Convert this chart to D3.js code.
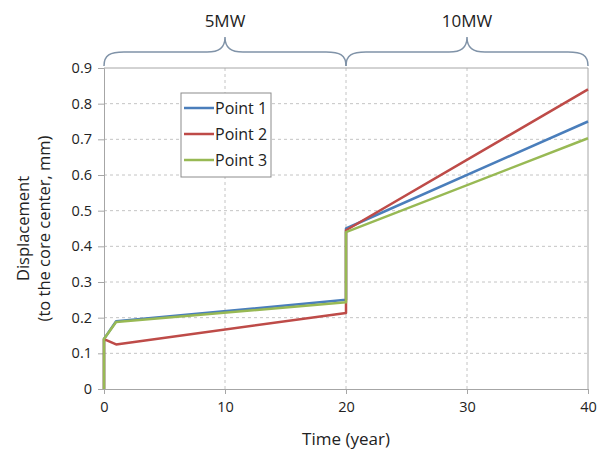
<!DOCTYPE html>
<html>
<head>
<meta charset="utf-8">
<script src="https://cdn.jsdelivr.net/npm/d3@7"></script>
<style>
  body { margin: 0; background: #fff; }
  text { font-family: "Open Sans", "Noto Sans", sans-serif; fill: #222; }
</style>
</head>
<body>
<div id="canvas"></div>
<script>
// data
let years = [0, 0, 1, 20, 20, 40];
let point1 = [0, 0.14, 0.19, 0.25, 0.45, 0.75];
let point2 = [0, 0.14, 0.125, 0.213, 0.445, 0.84];
let point3 = [0, 0.14, 0.188, 0.243, 0.44, 0.703];
let seriesNames = ["Point 1", "Point 2", "Point 3"];
let colors = ["#4a7ebb", "#be4b48", "#98b954"];
let xTicks = [0, 10, 20, 30, 40];
let yTicks = [0, 0.1, 0.2, 0.3, 0.4, 0.5, 0.6, 0.7, 0.8, 0.9];
let phases = [{ label: "5MW", from: 0, to: 20 }, { label: "10MW", from: 20, to: 40 }];

let width = 606, height = 453;
let margin = { left: 104, right: 18, top: 68, bottom: 64 };

let svg = d3
  .select("#canvas")
  .append("svg")
  .attr("width", width)
  .attr("height", height);

let x = d3.scaleLinear().domain([0, 40]).range([margin.left, width - margin.right]);
let y = d3.scaleLinear().domain([0, 0.9]).range([height - margin.bottom, margin.top]);

// grid
svg.append("g")
  .selectAll("line")
  .data(yTicks.slice(1, -1))
  .join("line")
  .attr("x1", x(0)).attr("x2", x(40))
  .attr("y1", (d) => y(d)).attr("y2", (d) => y(d))
  .attr("stroke", "#c4c4c4")
  .attr("stroke-dasharray", "3,3");

svg.append("g")
  .selectAll("line")
  .data(xTicks.slice(1, -1))
  .join("line")
  .attr("x1", (d) => x(d)).attr("x2", (d) => x(d))
  .attr("y1", y(0)).attr("y2", y(0.9))
  .attr("stroke", "#c4c4c4")
  .attr("stroke-dasharray", "3,3");

// plot border (top and right)
svg.append("path")
  .attr("d", `M${x(0)},${y(0.9)}H${x(40)}V${y(0)}`)
  .attr("fill", "none")
  .attr("stroke", "#a6a6a6");

// axes
let yAxis = svg.append("g")
  .attr("transform", `translate(${x(0)},0)`)
  .call(d3.axisLeft(y).tickValues(yTicks).tickSize(6).tickPadding(6)
    .tickFormat((d) => d === 0 ? "0" : d3.format(".1f")(d)));
let xAxis = svg.append("g")
  .attr("transform", `translate(0,${y(0)})`)
  .call(d3.axisBottom(x).tickValues(xTicks).tickSize(5).tickPadding(8));

[xAxis, yAxis].forEach((g) => {
  g.select(".domain").attr("stroke", "#a6a6a6");
  g.selectAll(".tick line").attr("stroke", "#a6a6a6");
  g.selectAll(".tick text")
    .style("font-family", '"Open Sans", "Noto Sans", sans-serif')
    .style("font-size", "14.5px")
    .attr("fill", "#222");
});

// series
let allSeries = [point1, point2, point3];
let line = d3.line()
  .x((d, i) => x(years[i]))
  .y((d) => y(d));

svg.append("g")
  .selectAll("path")
  .data(allSeries)
  .join("path")
  .attr("d", (d) => line(d))
  .attr("fill", "none")
  .attr("stroke", (d, i) => colors[i])
  .attr("stroke-width", 2.5)
  .attr("stroke-linejoin", "round");

// legend
let legend = svg.append("g").attr("transform", "translate(181,93)");
legend.append("rect")
  .attr("width", 90).attr("height", 84)
  .attr("fill", "#fff")
  .attr("stroke", "#8c8c8c");
let items = legend.selectAll("g.item")
  .data(seriesNames)
  .join("g")
  .attr("class", "item")
  .attr("transform", (d, i) => `translate(0,${15 + i * 26})`);
items.append("line")
  .attr("x1", 3).attr("x2", 33)
  .attr("stroke", (d, i) => colors[i])
  .attr("stroke-width", 2.5);
items.append("text")
  .attr("x", 34).attr("dy", "0.35em")
  .style("font-size", "16px")
  .text((d) => d);

// braces over the two phases
let braceTop = 52, braceEnd = 66, braceTip = 37;
let brace = (x0, x1) => {
  let xm = (x0 + x1) / 2;
  return `M${x0},${braceEnd} C${x0},${braceTop + 3} ${x0 + 6},${braceTop} ${x0 + 20},${braceTop}` +
    ` L${xm - 18},${braceTop} C${xm - 6},${braceTop} ${xm},${braceTop - 4} ${xm},${braceTip}` +
    ` C${xm},${braceTop - 4} ${xm + 6},${braceTop} ${xm + 18},${braceTop}` +
    ` L${x1 - 20},${braceTop} C${x1 - 6},${braceTop} ${x1},${braceTop + 3} ${x1},${braceEnd}`;
};
svg.append("g")
  .selectAll("path")
  .data(phases)
  .join("path")
  .attr("d", (d) => brace(x(d.from), x(d.to)))
  .attr("fill", "none")
  .attr("stroke", "#8093a8")
  .attr("stroke-width", 1.5);
svg.append("g")
  .selectAll("text")
  .data(phases)
  .join("text")
  .attr("x", (d) => x((d.from + d.to) / 2))
  .attr("y", 27)
  .attr("text-anchor", "middle")
  .style("font-size", "17px")
  .text((d) => d.label);

// axis titles
svg.append("text")
  .attr("x", x(20)).attr("y", 445)
  .attr("text-anchor", "middle")
  .style("font-size", "17px")
  .text("Time (year)");
let yTitle = svg.append("text")
  .attr("transform", `translate(23,${y(0.45)}) rotate(-90)`)
  .attr("text-anchor", "middle")
  .style("font-size", "16.5px");
yTitle.append("tspan").attr("x", 0).attr("dy", "0.35em").text("Displacement");
yTitle.append("tspan").attr("x", 0).attr("dy", "1.3em").text("(to the core center, mm)");
</script>
</body>
</html>
